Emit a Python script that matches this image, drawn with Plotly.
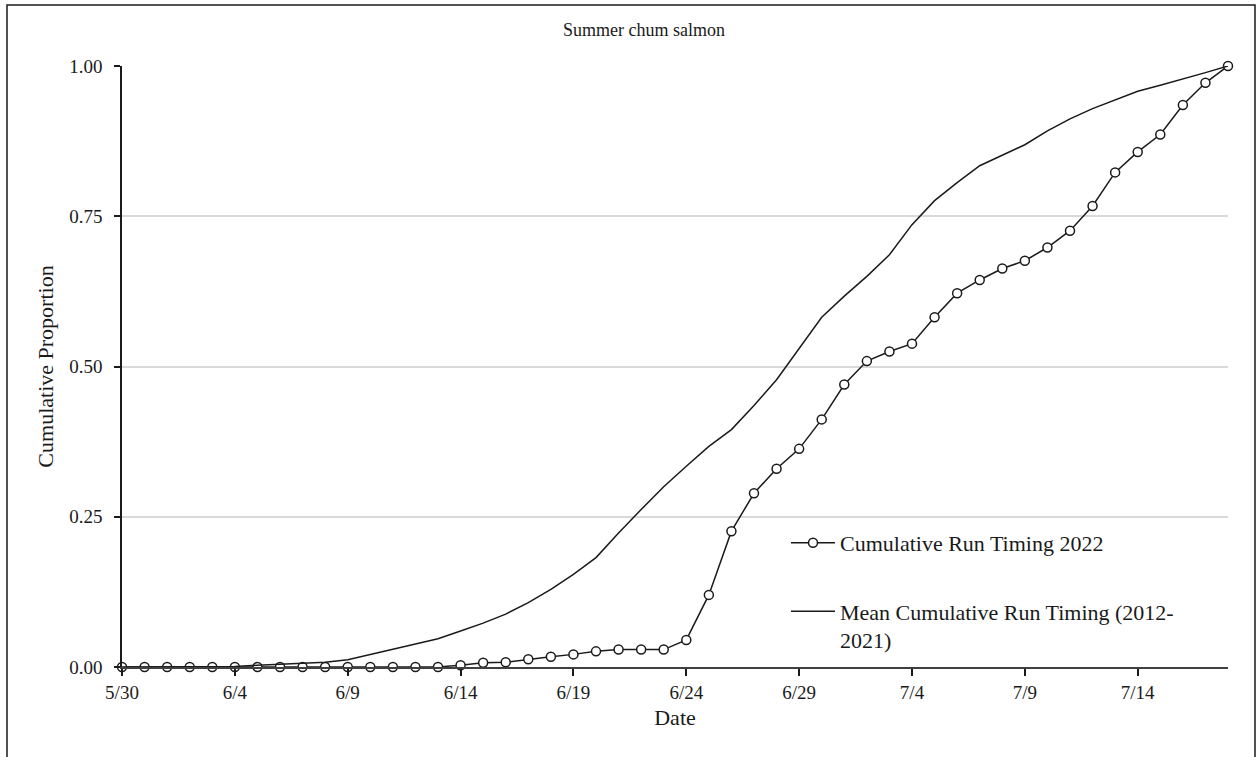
import plotly.graph_objects as go
import pandas as pd

# Dates (5/30 .. 7/18), daily
dates = pd.date_range("2022-05-30", "2022-07-18", freq="D")

run_2022 = [0, 0, 0, 0, 0, 0, 0, 0, 0, 0,
            0, 0, 0, 0, 0, 0.003, 0.007, 0.008, 0.013, 0.017,
            0.021, 0.026, 0.029, 0.029, 0.029, 0.045, 0.120, 0.226, 0.289, 0.330,
            0.363, 0.412, 0.470, 0.509, 0.525, 0.538, 0.582, 0.622, 0.644, 0.663,
            0.676, 0.698, 0.726, 0.767, 0.823, 0.857, 0.886, 0.935, 0.972, 1.000]

mean_2012_2021 = [0, 0, 0, 0, 0, 0.001, 0.003, 0.005, 0.006, 0.008,
                  0.012, 0.021, 0.030, 0.039, 0.047, 0.060, 0.073, 0.088, 0.107, 0.129,
                  0.154, 0.182, 0.223, 0.262, 0.300, 0.334, 0.367, 0.395, 0.435, 0.478,
                  0.530, 0.582, 0.617, 0.650, 0.686, 0.736, 0.776, 0.806, 0.834, 0.851,
                  0.869, 0.892, 0.912, 0.929, 0.944, 0.958, 0.968, 0.978, 0.989, 1.000]

tick_dates = ["2022-05-30", "2022-06-04", "2022-06-09", "2022-06-14", "2022-06-19",
              "2022-06-24", "2022-06-29", "2022-07-04", "2022-07-09", "2022-07-14"]
tick_labels = ["5/30", "6/4", "6/9", "6/14", "6/19", "6/24", "6/29", "7/4", "7/9", "7/14"]

y_ticks = [0, 0.25, 0.5, 0.75, 1.0]
y_labels = ["0.00", "0.25", "0.50", "0.75", "1.00"]

FONT = "Liberation Serif, Times New Roman, serif"

fig = go.Figure()
fig.add_trace(go.Scatter(
    x=dates, y=run_2022, mode="lines+markers",
    name="Cumulative Run Timing 2022",
    line=dict(color="#1a1a1a", width=1.5),
    marker=dict(symbol="circle", size=9, color="white",
                line=dict(color="#1a1a1a", width=1.5)),
    cliponaxis=False, legend="legend",
))
fig.add_trace(go.Scatter(
    x=dates, y=mean_2012_2021, mode="lines",
    name="Mean Cumulative Run Timing (2012-<br>2021)",
    line=dict(color="#1a1a1a", width=1.5),
    cliponaxis=False, legend="legend2",
))

W, H = 1257, 757
L, R, T, B = 122, 29, 66, 90
pw, ph = W - L - R, H - T - B

def px_x(x):
    return (x - L) / pw

def px_y(y):
    return (H - B - y) / ph

fig.update_layout(
    width=W, height=H,
    margin=dict(l=L, r=R, t=T, b=B),
    paper_bgcolor="white", plot_bgcolor="white",
    font=dict(family=FONT, size=19, color="#1a1a1a"),
    showlegend=True,
    legend=dict(x=px_x(786), y=px_y(543), xanchor="left", yanchor="middle",
                bgcolor="rgba(0,0,0,0)", font=dict(size=22, family=FONT),
                itemwidth=44, valign="middle"),
    legend2=dict(x=px_x(786), y=px_y(626), xanchor="left", yanchor="middle",
                 bgcolor="rgba(0,0,0,0)", font=dict(size=22, family=FONT),
                 itemwidth=44, valign="top"),
    xaxis=dict(
        type="date",
        range=["2022-05-30", "2022-07-18"],
        tickmode="array", tickvals=tick_dates, ticktext=tick_labels,
        showgrid=False, zeroline=False,
        showline=True, linecolor="#404040", linewidth=2,
        ticks="outside", ticklen=7, tickcolor="#1a1a1a", tickwidth=1.5,
        tickfont=dict(size=19, family=FONT),
        title=dict(text="Date", font=dict(size=22, family=FONT), standoff=8),
    ),
    yaxis=dict(
        range=[0, 1],
        tickmode="array", tickvals=y_ticks, ticktext=y_labels,
        showgrid=True, gridcolor="#d9d9d9", gridwidth=1.5,
        zeroline=False,
        showline=True, linecolor="#1a1a1a", linewidth=1.5,
        ticks="outside", ticklen=6, tickcolor="#1a1a1a", tickwidth=1.5,
        tickfont=dict(size=19, family=FONT),
        ticklabelstandoff=8,
        title=dict(text="Cumulative Proportion", font=dict(size=22, family=FONT), standoff=10),
    ),
    annotations=[dict(
        text="Summer chum salmon", xref="paper", yref="paper",
        x=px_x(644), y=px_y(30), xanchor="center", yanchor="middle",
        showarrow=False, font=dict(size=18, family=FONT),
    )],
    shapes=[dict(
        type="rect", xref="paper", yref="paper",
        x0=px_x(7), x1=px_x(1255), y0=px_y(800), y1=px_y(5),
        line=dict(color="#1a1a1a", width=1.5), fillcolor="rgba(0,0,0,0)",
        layer="below",
    )],
)

fig.write_html("out.html",
               config={"displayModeBar": False},
               post_script="document.body.style.margin='0';document.body.style.overflow='hidden';")
